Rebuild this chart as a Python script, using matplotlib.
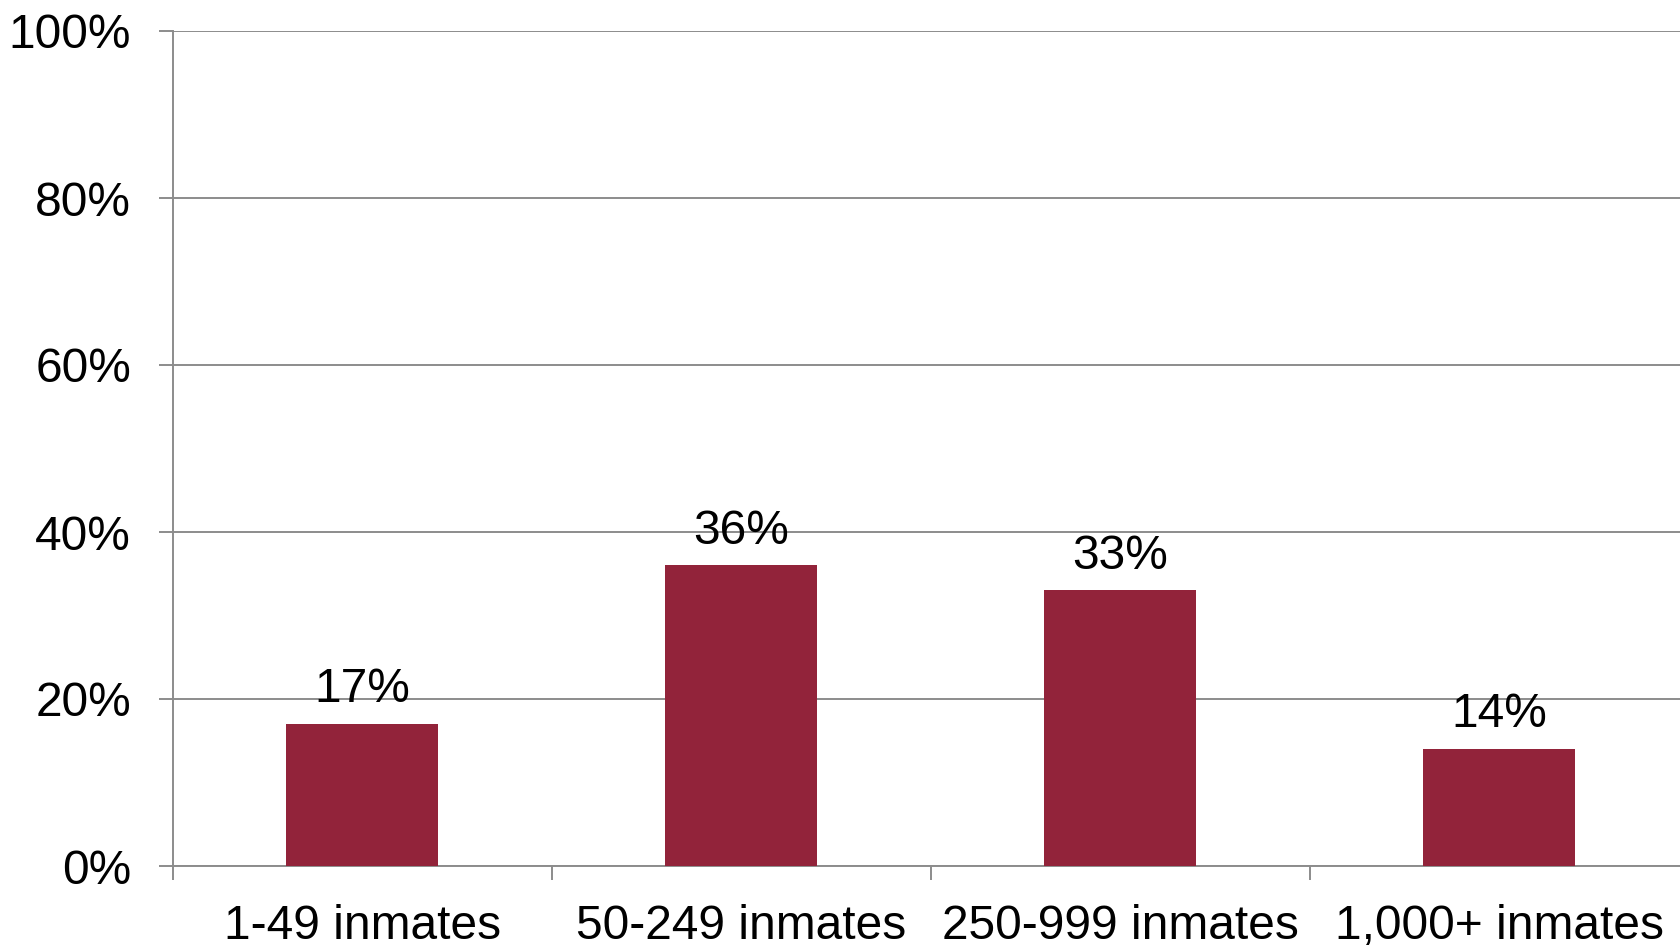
import numpy as np
import matplotlib
matplotlib.use("Agg")
import matplotlib.pyplot as plt

categories = ["1-49 inmates", "50-249 inmates", "250-999 inmates", "1,000+ inmates"]
shares = [17, 36, 33, 14]
y_ticks = [0, 20, 40, 60, 80, 100]

BAR = "#92233a"
GRID = "#8c8c8c"
FS = 34.5
plt.rcParams["font.family"] = ["Liberation Sans", "DejaVu Sans"]

fig = plt.figure(figsize=(16.8, 9.47), dpi=100)
ax = fig.add_axes([172.7 / 1680, 81 / 947, 1516 / 1680, 835 / 947])

x = np.arange(len(categories))
ax.bar(x, shares, width=0.4, color=BAR, zorder=3)
for xi, v in zip(x, shares):
    ax.text(xi, v + 2.6, f"{v}%", ha="center", va="baseline", fontsize=FS, zorder=4)

ax.set_xlim(-0.5, len(categories) - 0.5)
ax.set_ylim(0, 100)
ax.set_yticks(y_ticks)
ax.set_yticklabels([f"{t}%" for t in y_ticks])
ax.yaxis.grid(True, color=GRID, lw=1.4, zorder=0)

# category labels between boundary ticks
ax.set_xticks(np.arange(-0.5, len(categories), 1.0))
ax.set_xticklabels([])
ax.set_xticks(x, minor=True)
ax.set_xticklabels(categories, minor=True)
ax.tick_params(axis="x", which="major", length=10, width=1.4, color=GRID, direction="out")
ax.tick_params(axis="x", which="minor", length=0, pad=27, labelsize=FS)
ax.tick_params(axis="y", length=10, width=1.4, color=GRID, pad=20, labelsize=FS)

for s in ("top", "right"):
    ax.spines[s].set_visible(False)
for s in ("left", "bottom"):
    ax.spines[s].set_color(GRID)
    ax.spines[s].set_linewidth(1.4)

fig.savefig("out.png", dpi=100)
